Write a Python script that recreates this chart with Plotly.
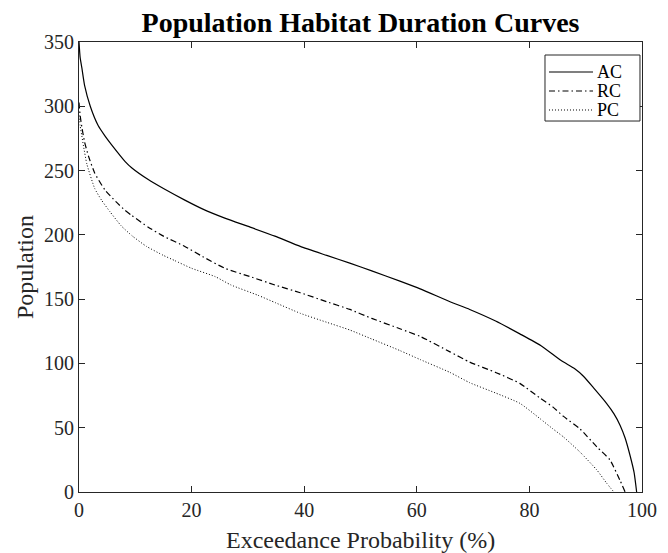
import plotly.graph_objects as go

# Exceedance probability (%) and population values for each curve
x_ac = [0, 0.2, 0.5, 1.0, 2.0, 3.4, 4.6, 5.8, 8.2, 9.4, 12.3, 15, 18.8, 22, 25.9, 30.4,
        34.8, 39.3, 44, 48.1, 52, 57.0, 60.6, 65.9, 69.4, 74, 78.3, 82, 85.7, 88, 89.6,
        91.4, 93.7, 95, 96.1, 97.0, 97.9, 98.6, 99.05]
ac = [350, 338, 330, 316, 300, 285, 277, 270, 257, 252, 243, 236, 227, 220, 213, 206,
      199, 191, 184, 178, 172, 164, 158, 148, 142, 133, 123, 114, 102, 96, 90,
      81, 69, 61, 52, 42, 28, 15, 0]

x_rc = [0, 0.2, 0.5, 1.0, 1.7, 2.8, 4.6, 6.5, 8.2, 9.4, 12.3, 15, 18.8, 22, 25.9, 30.4,
        34.8, 39.3, 44, 48.1, 52, 57, 60.6, 65.9, 69.4, 74, 78.3, 81.9, 84.2, 86, 89,
        92, 94.3, 96.1, 97.0]
rc = [303, 293, 284, 272, 261, 248, 235, 226, 219, 215, 206, 199, 191, 183, 174, 167.5,
      161, 155, 148, 142, 135, 127, 121, 109, 101, 93, 84.5, 73, 66, 59, 49,
      35, 25, 9, 0]

x_pc = [0, 0.2, 0.5, 0.8, 1.4, 2.8, 4, 5.5, 7.5, 9.5, 12, 15, 17, 20, 24.2, 27, 31.8,
        35, 39.3, 44, 48.1, 52, 57, 60.6, 65.9, 69.4, 74, 78.3, 81.9, 84.2, 86, 89,
        92, 93.7, 95.0]
pc = [293, 285, 277, 269, 255, 236, 227, 218, 207, 199, 191, 184, 180, 174, 167.5, 161, 153,
      147, 139, 132, 126, 119, 110, 103, 93, 85, 77, 69, 57, 49, 43, 31,
      17, 7, 0]

series_names = ["AC", "RC", "PC"]
x_ticks = [0, 20, 40, 60, 80, 100]
y_ticks = [0, 50, 100, 150, 200, 250, 300, 350]

FONT = "Liberation Serif, Times New Roman, serif"
AXC = "#262626"
styles = [dict(color="black", width=1.2, dash="solid"),
          dict(color="black", width=1.2, dash="6px,3px,1.5px,3px"),
          dict(color="black", width=1.0, dash="1px,2px")]

fig = go.Figure()
for name, xs, ys, st in zip(series_names, [x_ac, x_rc, x_pc], [ac, rc, pc], styles):
    fig.add_trace(go.Scatter(x=xs, y=ys, mode="lines", name=name,
                             line=dict(st, shape="spline", smoothing=0.5),
                             showlegend=False))

axis_common = dict(
    showgrid=False, zeroline=False, showline=True, linecolor=AXC, linewidth=1,
    mirror="ticks", ticks="inside", ticklen=6, tickcolor=AXC, tickwidth=1,
    tickfont=dict(family=FONT, size=20, color=AXC), automargin=False,
)

# Legend box (drawn manually to match compact MATLAB legend)
shapes = [dict(type="rect", xref="paper", yref="paper", x0=0.8277, x1=0.9964,
               y0=0.8244, y1=0.9711, line=dict(color=AXC, width=1),
               fillcolor="white", layer="above")]
annotations = []
leg_y = [0.9333, 0.8911, 0.8489]
for name, st, yy in zip(series_names, styles, leg_y):
    shapes.append(dict(type="line", xref="paper", yref="paper", x0=0.8348, x1=0.9130,
                       y0=yy, y1=yy, line=st, layer="above"))
    annotations.append(dict(text=name, xref="paper", yref="paper", x=0.9165, y=yy,
                            xanchor="left", yanchor="middle", showarrow=False,
                            font=dict(family=FONT, size=18, color="black")))

annotations.append(dict(text="Exceedance Probability (%)", xref="paper", yref="paper",
                        x=0.5, y=-0.1067, xanchor="center", yanchor="middle",
                        showarrow=False, font=dict(family=FONT, size=24, color=AXC)))
annotations.append(dict(text="Population", xref="paper", yref="paper",
                        x=-0.0959, y=0.5, xanchor="center", yanchor="middle",
                        textangle=-90, showarrow=False,
                        font=dict(family=FONT, size=24, color=AXC)))

fig.update_layout(
    width=668, height=553,
    margin=dict(l=79, r=26, t=42, b=61, autoexpand=False),
    paper_bgcolor="white", plot_bgcolor="white",
    title=dict(text="<b>Population Habitat Duration Curves</b>",
               font=dict(family=FONT, size=28, color="black"),
               x=0.5397, xanchor="center", y=0.960, yanchor="middle"),
    xaxis=dict(range=[0, 100], tickvals=x_ticks, **axis_common),
    yaxis=dict(range=[0, 350], tickvals=y_ticks, **axis_common),
    shapes=shapes,
    annotations=annotations,
    showlegend=False,
)

fig.write_html("out.html")
